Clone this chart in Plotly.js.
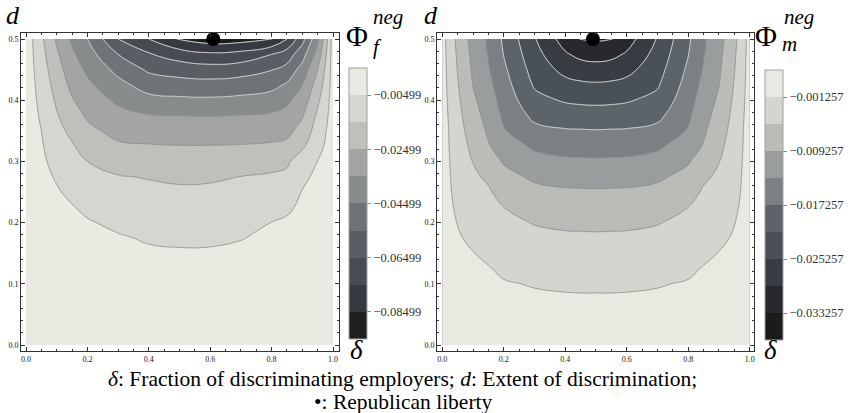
<!DOCTYPE html>
<html><head><meta charset="utf-8">
<script src="https://cdn.plot.ly/plotly-3.0.1.min.js"></script>
<style>html,body{margin:0;padding:0;background:#fff;}#chart{width:849px;height:413px;}</style>
</head><body><div id="chart"></div>
<script>
// ---------- data: left panel, Phi_f^neg (one column per delta value) ----------
const fDelta = [0, 0.02, 0.05, 0.1, 0.15, 0.2, 0.3, 0.4, 0.5, 0.6, 0.7, 0.8, 0.85, 0.9, 0.95, 0.98, 1];
const fD = [0, 0.05, 0.1, 0.15, 0.175, 0.2, 0.225, 0.25, 0.275, 0.3, 0.325, 0.35, 0.375, 0.4, 0.425, 0.45, 0.475, 0.5];
const fPhi = [
  [0,0,0,0,0,0,0,0,0,0,0,0,0,0,0,0,0,0],
  [0,-0.00002,-0.0001,-0.0002,-0.0003,-0.0004,-0.0006,-0.0008,-0.001,-0.0013,-0.0016,-0.002,-0.0023,-0.0027,-0.0031,-0.0036,-0.0041,-0.0045],
  [0,-0.00005,-0.0002,-0.0006,-0.0008,-0.001,-0.0015,-0.0021,-0.0027,-0.0033,-0.0041,-0.005,-0.0062,-0.0075,-0.0088,-0.0102,-0.0117,-0.0132],
  [0,-0.0001,-0.0004,-0.0012,-0.0016,-0.0022,-0.0032,-0.0042,-0.0058,-0.0079,-0.01,-0.0121,-0.0142,-0.0164,-0.0188,-0.0212,-0.0236,-0.0263],
  [0,-0.00015,-0.0006,-0.0018,-0.0025,-0.0033,-0.0045,-0.0068,-0.0092,-0.0117,-0.0141,-0.0173,-0.0208,-0.0243,-0.0274,-0.0303,-0.0332,-0.0367],
  [0,-0.0002,-0.0008,-0.0022,-0.0031,-0.0043,-0.0067,-0.0094,-0.0122,-0.015,-0.0188,-0.0227,-0.0263,-0.0297,-0.033,-0.0367,-0.0408,-0.045],
  [0,-0.0003,-0.0012,-0.0032,-0.0042,-0.0067,-0.0093,-0.0119,-0.0145,-0.0188,-0.0235,-0.0279,-0.0321,-0.0367,-0.0419,-0.0479,-0.055,-0.065],
  [0,-0.00035,-0.0014,-0.0038,-0.0058,-0.0081,-0.0105,-0.0129,-0.0155,-0.0199,-0.0243,-0.0293,-0.0344,-0.0419,-0.0493,-0.0565,-0.0641,-0.075],
  [0,-0.0004,-0.0015,-0.0042,-0.0063,-0.0087,-0.0111,-0.0135,-0.0165,-0.0206,-0.0247,-0.0298,-0.035,-0.0431,-0.0509,-0.0593,-0.0697,-0.086],
  [0,-0.0004,-0.0015,-0.0042,-0.0061,-0.0085,-0.0109,-0.0133,-0.0162,-0.0204,-0.0247,-0.0299,-0.0353,-0.0434,-0.0515,-0.0606,-0.0732,-0.09],
  [0,-0.00035,-0.0014,-0.0039,-0.0052,-0.0076,-0.01,-0.0125,-0.0149,-0.0196,-0.0244,-0.0296,-0.0348,-0.0425,-0.0503,-0.0592,-0.0715,-0.089],
  [0,-0.0003,-0.0011,-0.0032,-0.0039,-0.0049,-0.0079,-0.0109,-0.0138,-0.0183,-0.0237,-0.0287,-0.0336,-0.0405,-0.0479,-0.0554,-0.065,-0.085],
  [0,-0.00025,-0.0009,-0.0027,-0.0033,-0.004,-0.0062,-0.0094,-0.0127,-0.0167,-0.0226,-0.0276,-0.0319,-0.0369,-0.0437,-0.0517,-0.06,-0.075],
  [0,-0.0002,-0.0007,-0.0019,-0.0023,-0.0028,-0.0036,-0.0047,-0.0063,-0.0095,-0.0168,-0.0214,-0.0259,-0.0305,-0.035,-0.0413,-0.049,-0.0583],
  [0,-0.0001,-0.0004,-0.001,-0.0012,-0.0014,-0.002,-0.0026,-0.0037,-0.0049,-0.0078,-0.0106,-0.0133,-0.0167,-0.0208,-0.025,-0.0313,-0.0375],
  [0,-0.00004,-0.0001,-0.0004,-0.0005,-0.0006,-0.001,-0.0015,-0.002,-0.0027,-0.0036,-0.0045,-0.0062,-0.0081,-0.01,-0.0119,-0.0138,-0.0167],
  [0,0,0,0,0,0,0,0,0,0,0,0,0,0,0,0,0,0]
];
const fLevelStart = -0.08499, fLevelEnd = -0.00499, fLevelStep = 0.01;
const fTickVals = [-0.00499, -0.02499, -0.04499, -0.06499, -0.08499];
const fTickText = ['\u22120.00499', '\u22120.02499', '\u22120.04499', '\u22120.06499', '\u22120.08499'];
const fColors = ['#1e1e1e','#363a40','#474c52','#585e63','#6d7376','#868b8c','#a3a5a4','#bfc0bb','#d5d6d0','#e9eae2'];
const fLibertyDelta = [0.61], fLibertyD = [0.5];

// ---------- data: right panel, Phi_m^neg (one column per delta value) ----------
const mDelta = [0, 0.02, 0.05, 0.1, 0.15, 0.2, 0.3, 0.4, 0.45, 0.5, 0.55, 0.6, 0.7, 0.8, 0.85, 0.9, 0.95, 0.98, 1];
const mD = [0, 0.05, 0.075, 0.1, 0.125, 0.15, 0.175, 0.2, 0.225, 0.25, 0.275, 0.3, 0.325, 0.35, 0.375, 0.4, 0.425, 0.45, 0.475, 0.5];
const mPhi = [
  [0,0,0,0,0,0,0,0,0,0,0,0,0,0,0,0,0,0,0,0],
  [0,-0.00003,-0.00007,-0.00012,-0.0002,-0.0003,-0.00042,-0.00054,-0.00066,-0.00078,-0.00088,-0.00098,-0.0011,-0.0012,-0.00137,-0.00155,-0.00174,-0.00192,-0.00211,-0.0023],
  [0,-0.00008,-0.00018,-0.00033,-0.0005,-0.00072,-0.00098,-0.00134,-0.00175,-0.00216,-0.00256,-0.00297,-0.00338,-0.00379,-0.0042,-0.0046,-0.00501,-0.00544,-0.0059,-0.00637],
  [0,-0.00017,-0.00035,-0.00058,-0.00085,-0.00118,-0.00182,-0.00252,-0.00323,-0.00393,-0.00464,-0.00536,-0.00617,-0.00698,-0.0078,-0.00861,-0.00935,-0.0098,-0.01024,-0.01069],
  [0,-0.00024,-0.00048,-0.0008,-0.0011,-0.00185,-0.00259,-0.00333,-0.00407,-0.00481,-0.00587,-0.00741,-0.00895,-0.00987,-0.01064,-0.01141,-0.01218,-0.01295,-0.01347,-0.01383],
  [0,-0.00028,-0.0006,-0.00105,-0.00175,-0.00262,-0.0035,-0.00438,-0.00524,-0.00669,-0.00812,-0.0096,-0.01126,-0.01292,-0.01395,-0.01482,-0.01569,-0.01656,-0.01737,-0.01793],
  [0,-0.00042,-0.00085,-0.00142,-0.00241,-0.0034,-0.00439,-0.00543,-0.00686,-0.00829,-0.00988,-0.01184,-0.01389,-0.01616,-0.01824,-0.02013,-0.02169,-0.0228,-0.02386,-0.02495],
  [0,-0.00045,-0.00095,-0.00162,-0.00264,-0.00366,-0.00469,-0.00589,-0.00732,-0.00874,-0.01056,-0.01261,-0.01474,-0.01691,-0.01926,-0.02164,-0.02402,-0.0264,-0.02878,-0.03111],
  [0,-0.00047,-0.00098,-0.00167,-0.00269,-0.00371,-0.00473,-0.00594,-0.00737,-0.0088,-0.01064,-0.01268,-0.01482,-0.01699,-0.01946,-0.02198,-0.02454,-0.02731,-0.0303,-0.03345],
  [0,-0.00047,-0.00098,-0.00167,-0.00271,-0.00374,-0.00477,-0.006,-0.00743,-0.00886,-0.01073,-0.01277,-0.0149,-0.01708,-0.01956,-0.0221,-0.02473,-0.02768,-0.03076,-0.0337],
  [0,-0.00047,-0.00098,-0.00167,-0.00269,-0.00371,-0.00473,-0.00594,-0.00737,-0.0088,-0.01064,-0.01268,-0.01482,-0.01699,-0.01946,-0.02198,-0.02454,-0.02731,-0.0303,-0.03345],
  [0,-0.00045,-0.00095,-0.00162,-0.00264,-0.00366,-0.00469,-0.00589,-0.00732,-0.00874,-0.01056,-0.01261,-0.01474,-0.01691,-0.01926,-0.02164,-0.02402,-0.0264,-0.02878,-0.03111],
  [0,-0.00042,-0.00085,-0.00142,-0.00241,-0.0034,-0.00439,-0.00543,-0.00686,-0.00829,-0.00988,-0.01184,-0.01389,-0.01616,-0.01824,-0.02013,-0.02169,-0.0228,-0.02386,-0.02495],
  [0,-0.00028,-0.0006,-0.00105,-0.00175,-0.00262,-0.0035,-0.00438,-0.00524,-0.00669,-0.00812,-0.0096,-0.01126,-0.01292,-0.01395,-0.01482,-0.01569,-0.01656,-0.01737,-0.01793],
  [0,-0.00024,-0.00048,-0.0008,-0.0011,-0.00185,-0.00259,-0.00333,-0.00407,-0.00481,-0.00587,-0.00741,-0.00895,-0.00987,-0.01064,-0.01141,-0.01218,-0.01295,-0.01347,-0.01383],
  [0,-0.00017,-0.00035,-0.00058,-0.00085,-0.00118,-0.00182,-0.00252,-0.00323,-0.00393,-0.00464,-0.00536,-0.00617,-0.00698,-0.0078,-0.00861,-0.00935,-0.0098,-0.01024,-0.01069],
  [0,-0.00008,-0.00018,-0.00033,-0.0005,-0.00072,-0.00098,-0.00134,-0.00175,-0.00216,-0.00256,-0.00297,-0.00338,-0.00379,-0.0042,-0.0046,-0.00501,-0.00544,-0.0059,-0.00637],
  [0,-0.00003,-0.00007,-0.00012,-0.0002,-0.0003,-0.00042,-0.00054,-0.00066,-0.00078,-0.00088,-0.00098,-0.0011,-0.0012,-0.00137,-0.00155,-0.00174,-0.00192,-0.00211,-0.0023],
  [0,0,0,0,0,0,0,0,0,0,0,0,0,0,0,0,0,0,0,0]
];
const mLevelStart = -0.033257, mLevelEnd = -0.001257, mLevelStep = 0.004;
const mTickVals = [-0.001257, -0.009257, -0.017257, -0.025257, -0.033257];
const mTickText = ['\u22120.001257', '\u22120.009257', '\u22120.017257', '\u22120.025257', '\u22120.033257'];
const mColors = ['#1b1b1b','#28292c','#383c43','#4a5057','#5d6469','#7a8083','#999d9d','#babcb8','#d4d5cf','#e8e9e1'];
const mLibertyDelta = [0.49], mLibertyD = [0.5];

// ---------- helpers ----------
const W = 849, H = 413;
const px = v => v / W, py = v => 1 - v / H;
const SERIF = "'Liberation Serif', 'Times New Roman', serif";

function fillScale(colors) {
  const n = colors.length - 1;
  return colors.map((c, i) => [i / n, c]);
}
function stepScale(colors) {
  const n = colors.length, out = [];
  colors.forEach((c, i) => { out.push([i / n, c]); out.push([(i + 1) / n, c]); });
  return out;
}

function panel(xs, ys, zs, start, end, step, whiteFrom, colors, tv, tt, libX, libY, ax, cbx, cby, cblen) {
  const xa = ax === 1 ? 'x' : 'x2', ya = ax === 1 ? 'y' : 'y2';
  return [
    { type: 'contour', x: xs, y: ys, z: zs, transpose: true, xaxis: xa, yaxis: ya,
      autocontour: false, contours: { start: start, end: end, size: step, coloring: 'fill' },
      colorscale: fillScale(colors), showscale: false,
      line: { color: '#8d8d8d', width: 0.8, smoothing: 1.3 }, hoverinfo: 'skip' },
    { type: 'contour', x: xs, y: ys, z: zs, transpose: true, xaxis: xa, yaxis: ya,
      autocontour: false, contours: { start: start, end: whiteFrom, size: step, coloring: 'none' },
      showscale: false, line: { color: 'rgba(240,240,240,0.8)', width: 0.8, smoothing: 1.3 }, hoverinfo: 'skip' },
    { type: 'scatter', mode: 'markers', x: [libX[0], libX[0]], y: [libY[0], libY[0]], xaxis: xa, yaxis: ya,
      hoverinfo: 'skip',
      marker: { size: 1, opacity: 0, color: [start - step, end + step], cmin: start - step, cmax: end + step,
        colorscale: stepScale(colors), showscale: true,
        colorbar: { x: cbx, xanchor: 'left', xpad: 0, y: cby, yanchor: 'middle', ypad: 0,
          len: cblen, lenmode: 'pixels', thickness: 18, thicknessmode: 'pixels',
          outlinewidth: 1, outlinecolor: '#a0a0a0', borderwidth: 0,
          tickmode: 'array', tickvals: tv, ticktext: tt, ticks: 'outside', ticklen: 4,
          tickcolor: '#888', tickwidth: 1,
          tickfont: { family: SERIF, size: 12.5, color: '#333' } } } },
    { type: 'scatter', mode: 'markers', x: libX, y: libY, xaxis: xa, yaxis: ya, cliponaxis: false,
      hoverinfo: 'skip', marker: { size: 14, color: '#000' } }
  ];
}

const data = [].concat(
  panel(fDelta, fD, fPhi, fLevelStart, fLevelEnd, fLevelStep, -0.04499, fColors, fTickVals, fTickText,
        fLibertyDelta, fLibertyD, 1, px(349), py(203.5), 271),
  panel(mDelta, mD, mPhi, mLevelStart, mLevelEnd, mLevelStep, -0.017257, mColors, mTickVals, mTickText,
        mLibertyDelta, mLibertyD, 2, px(765), py(205), 270)
);

function axisBase(domain, range, anchor, dtick, mdtick) {
  return { domain: domain, range: range, anchor: anchor, showgrid: false, zeroline: false,
    showline: true, linecolor: '#333', linewidth: 1, mirror: 'ticks',
    ticks: 'inside', ticklen: 4, tickwidth: 1, tickcolor: '#333',
    tickmode: 'linear', tick0: 0, dtick: dtick, tickformat: '.1f',
    tickfont: { family: SERIF, size: 8, color: '#111' },
    minor: { ticks: 'inside', ticklen: 2, tickcolor: '#333', dtick: mdtick, tick0: 0, showgrid: false } };
}

function txt(x, y, t, size) {
  return { xref: 'paper', yref: 'paper', x: px(x), y: py(y), text: t, showarrow: false,
    xanchor: 'center', yanchor: 'middle', font: { family: SERIF, size: size, color: '#000' } };
}

const layout = {
  width: W, height: H, margin: { l: 0, r: 0, t: 0, b: 0 },
  paper_bgcolor: '#fff', plot_bgcolor: '#fff', showlegend: false,
  xaxis: axisBase([px(21), px(339)], [-0.0163, 1.0195], 'y', 0.2, 0.05),
  yaxis: axisBase([py(351), py(33)], [-0.0098, 0.5098], 'x', 0.1, 0.02),
  xaxis2: axisBase([px(437), px(754)], [-0.0172, 1.014], 'y2', 0.2, 0.05),
  yaxis2: axisBase([py(351), py(33)], [-0.0098, 0.5098], 'x2', 0.1, 0.02),
  annotations: [
    txt(13, 16, '<i>d</i>', 26),
    txt(431, 16, '<i>d</i>', 26),
    txt(356, 350, '<i>δ</i>', 27),
    txt(770, 350, '<i>δ</i>', 27),
    txt(357, 35, 'Φ', 30),
    txt(388, 17, '<i>neg</i>', 21),
    txt(377, 47, '<i>f</i>', 21),
    txt(766, 35, 'Φ', 30),
    txt(799, 17, '<i>neg</i>', 21),
    txt(789, 44, '<i>m</i>', 21),
    txt(402, 379, '<i>δ</i>: Fraction of discriminating employers; <i>d</i>: Extent of discrimination;', 21.5),
    txt(403, 402, '•: Republican liberty', 21.5)
  ]
};

Plotly.newPlot('chart', data, layout, { staticPlot: true, displayModeBar: false });
</script></body></html>
